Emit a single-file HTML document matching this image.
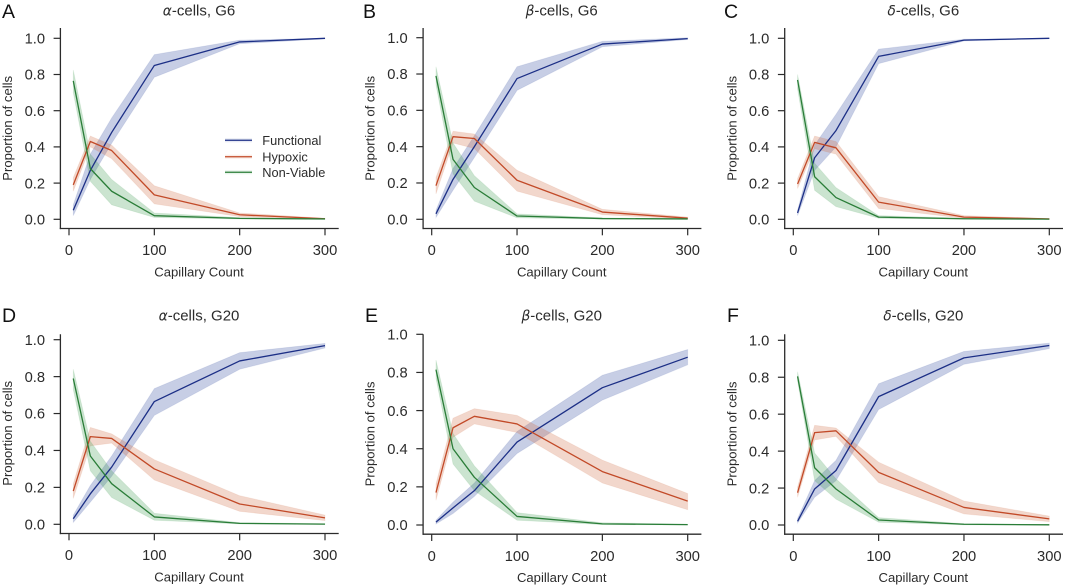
<!DOCTYPE html>
<html>
<head>
<meta charset="utf-8">
<title>Proportion of cells vs capillary count</title>
<style>
html,body{margin:0;padding:0;background:#fff;}
svg{display:block;font-family:"Liberation Sans",Arial,sans-serif;filter:blur(0.3px);}
</style>
</head>
<body>
<svg id="figure" width="1065" height="586" viewBox="0 0 1065 586" xmlns="http://www.w3.org/2000/svg"></svg>
<script>
// ---- Shared data ----
const capillaryCounts = [5, 25, 50, 100, 200, 300];
const xTickValues = [0, 100, 200, 300];
const yTickValues = [0, 0.2, 0.4, 0.6, 0.8, 1.0];
const seriesNames = ['Functional', 'Hypoxic', 'Non-Viable'];

// ---- Panel A ----
const aFunctional = [0.05, 0.27, 0.48, 0.85, 0.98, 1.0];
const aFunctionalLow = [0.02, 0.22, 0.42, 0.785, 0.97, 0.997];
const aFunctionalHigh = [0.08, 0.36, 0.56, 0.91, 0.99, 1.0];
const aHypoxic = [0.19, 0.43, 0.38, 0.135, 0.025, 0.003];
const aHypoxicLow = [0.155, 0.40, 0.335, 0.085, 0.015, 0.001];
const aHypoxicHigh = [0.23, 0.46, 0.41, 0.185, 0.035, 0.006];
const aNonViable = [0.765, 0.28, 0.155, 0.02, 0.005, 0.002];
const aNonViableLow = [0.70, 0.21, 0.08, 0.01, 0.002, 0.001];
const aNonViableHigh = [0.825, 0.36, 0.22, 0.035, 0.009, 0.004];

// ---- Panel B ----
const bFunctional = [0.03, 0.22, 0.40, 0.775, 0.965, 0.995];
const bFunctionalLow = [0.01, 0.16, 0.34, 0.71, 0.95, 0.99];
const bFunctionalHigh = [0.05, 0.28, 0.46, 0.84, 0.98, 1.0];
const bHypoxic = [0.185, 0.455, 0.445, 0.215, 0.04, 0.006];
const bHypoxicLow = [0.14, 0.42, 0.39, 0.155, 0.025, 0.002];
const bHypoxicHigh = [0.23, 0.485, 0.47, 0.27, 0.055, 0.012];
const bNonViable = [0.79, 0.33, 0.175, 0.018, 0.004, 0.002];
const bNonViableLow = [0.74, 0.25, 0.10, 0.008, 0.001, 0.001];
const bNonViableHigh = [0.84, 0.42, 0.24, 0.03, 0.008, 0.004];

// ---- Panel C ----
const cFunctional = [0.035, 0.34, 0.49, 0.90, 0.99, 1.0];
const cFunctionalLow = [0.02, 0.27, 0.40, 0.86, 0.985, 0.998];
const cFunctionalHigh = [0.05, 0.41, 0.58, 0.94, 0.995, 1.0];
const cHypoxic = [0.195, 0.425, 0.395, 0.095, 0.012, 0.002];
const cHypoxicLow = [0.17, 0.39, 0.36, 0.06, 0.006, 0.001];
const cHypoxicHigh = [0.225, 0.46, 0.43, 0.125, 0.02, 0.004];
const cNonViable = [0.77, 0.235, 0.12, 0.012, 0.003, 0.001];
const cNonViableLow = [0.72, 0.16, 0.07, 0.006, 0.001, 0.0];
const cNonViableHigh = [0.80, 0.31, 0.175, 0.02, 0.006, 0.002];

// ---- Panel D ----
const dFunctional = [0.03, 0.165, 0.31, 0.665, 0.885, 0.968];
const dFunctionalLow = [0.01, 0.12, 0.26, 0.59, 0.84, 0.955];
const dFunctionalHigh = [0.05, 0.21, 0.37, 0.735, 0.93, 0.98];
const dHypoxic = [0.18, 0.475, 0.465, 0.30, 0.11, 0.035];
const dHypoxicLow = [0.14, 0.425, 0.44, 0.24, 0.07, 0.02];
const dHypoxicHigh = [0.22, 0.525, 0.49, 0.35, 0.155, 0.05];
const dNonViable = [0.79, 0.37, 0.22, 0.04, 0.005, 0.001];
const dNonViableLow = [0.73, 0.29, 0.145, 0.022, 0.002, 0.0];
const dNonViableHigh = [0.84, 0.45, 0.29, 0.06, 0.009, 0.003];

// ---- Panel E ----
const eFunctional = [0.015, 0.09, 0.18, 0.435, 0.72, 0.88];
const eFunctionalLow = [0.005, 0.06, 0.15, 0.375, 0.655, 0.84];
const eFunctionalHigh = [0.025, 0.12, 0.22, 0.49, 0.785, 0.92];
const eHypoxic = [0.17, 0.51, 0.57, 0.53, 0.28, 0.125];
const eHypoxicLow = [0.13, 0.46, 0.53, 0.485, 0.22, 0.08];
const eHypoxicHigh = [0.215, 0.56, 0.61, 0.575, 0.34, 0.165];
const eNonViable = [0.815, 0.40, 0.25, 0.045, 0.006, 0.002];
const eNonViableLow = [0.77, 0.32, 0.18, 0.025, 0.002, 0.001];
const eNonViableHigh = [0.865, 0.48, 0.31, 0.065, 0.012, 0.004];

// ---- Panel F ----
const fFunctional = [0.02, 0.195, 0.295, 0.695, 0.905, 0.972];
const fFunctionalLow = [0.01, 0.15, 0.24, 0.625, 0.87, 0.955];
const fFunctionalHigh = [0.035, 0.24, 0.35, 0.765, 0.94, 0.985];
const fHypoxic = [0.175, 0.50, 0.51, 0.285, 0.095, 0.033];
const fHypoxicLow = [0.15, 0.46, 0.48, 0.23, 0.06, 0.018];
const fHypoxicHigh = [0.205, 0.54, 0.525, 0.34, 0.13, 0.048];
const fNonViable = [0.805, 0.31, 0.195, 0.027, 0.004, 0.001];
const fNonViableLow = [0.78, 0.24, 0.14, 0.015, 0.001, 0.0];
const fNonViableHigh = [0.83, 0.39, 0.25, 0.04, 0.007, 0.002];

const SVG_NS = 'http://www.w3.org/2000/svg';
const figure = document.getElementById('figure');
const INK = '#2b2b2b';
const COLORS = ['#1c2f86', '#c24a28', '#2a7d38'];
const BANDS = ['#2f4a9e', '#cf6a42', '#3f9a50'];

function make(tag, parent, attrs, text) {
  const el = document.createElementNS(SVG_NS, tag);
  for (const k in attrs) el.setAttribute(k, attrs[k]);
  if (text !== undefined) el.textContent = text;
  parent.appendChild(el);
  return el;
}

function slug(s) {
  return s.toLowerCase().replace(/[^a-z0-9]+/g, '-');
}

function drawPanel(cfg, series) {
  const xScale = v => cfg.x0 + (v / 300) * 256;
  const yScale = v => cfg.y0 + v * (cfg.y1 - cfg.y0);
  const spineX = cfg.x0 - 8.6;
  const spineY = cfg.y0 + 9.2;
  const rightX = cfg.x0 + 269.7;

  const g = make('g', figure, {});
  
  

  const letter = make('text', g, {x: cfg.letterX, y: cfg.letterY, 'font-size': 19.5, fill: '#111'}, cfg.letter);
  
  

  const title = make('text', g, {x: cfg.x0 + 130, y: cfg.titleY, 'font-size': 15, fill: INK, 'text-anchor': 'middle'});
  
  
  make('tspan', title, {'font-style': 'italic', 'font-family': '"DejaVu Sans","Liberation Sans",sans-serif', 'font-size': 13.8}, cfg.greek);
  make('tspan', title, {}, '-cells, ' + cfg.condition);

  // bands then lines, one group per series
  series.forEach((s, i) => {
    const upper = capillaryCounts.map((c, j) => xScale(c).toFixed(2) + ',' + yScale(s.high[j]).toFixed(2));
    const lower = capillaryCounts.map((c, j) => xScale(c).toFixed(2) + ',' + yScale(s.low[j]).toFixed(2)).reverse();
    const band = make('polygon', g, {points: upper.concat(lower).join(' '), fill: BANDS[i], 'fill-opacity': 0.27, stroke: BANDS[i], 'stroke-opacity': 0.12, 'stroke-width': 0.8});
    
    
  });
  series.forEach((s, i) => {
    const pts = capillaryCounts.map((c, j) => xScale(c).toFixed(2) + ',' + yScale(s.mean[j]).toFixed(2)).join(' ');
    const line = make('polyline', g, {points: pts, fill: 'none', stroke: COLORS[i], 'stroke-width': 1.3, 'stroke-linejoin': 'round'});
    
    
  });

  // spines
  const ySpine = make('line', g, {x1: spineX, x2: spineX, y1: cfg.top, y2: spineY + 0.6, stroke: INK, 'stroke-width': 1.3});
  
  
  const xSpine = make('line', g, {x1: spineX - 0.6, x2: rightX, y1: spineY, y2: spineY, stroke: INK, 'stroke-width': 1.3});
  
  

  yTickValues.forEach(v => {
    const y = yScale(v);
    const tick = make('line', g, {x1: spineX - 6.8, x2: spineX, y1: y, y2: y, stroke: INK, 'stroke-width': 1.2});
    
    
    const lab = make('text', g, {x: spineX - 15.4, y: y + 5.2, 'font-size': 14.7, fill: INK, 'text-anchor': 'end'}, v.toFixed(1));
    
    
  });
  xTickValues.forEach(v => {
    const x = xScale(v);
    const tick = make('line', g, {x1: x, x2: x, y1: spineY, y2: spineY + 6.8, stroke: INK, 'stroke-width': 1.2});
    
    
    const lab = make('text', g, {x: x, y: spineY + 26.6, 'font-size': 14.7, fill: INK, 'text-anchor': 'middle'}, String(v));
    
    
  });

  const xTitle = make('text', g, {x: cfg.x0 + 130, y: spineY + 48, 'font-size': 13.1, fill: INK, 'text-anchor': 'middle'}, 'Capillary Count');
  
  

  const yCentre = cfg.y0 - 91;
  const yTitleX = cfg.x0 - 57;
  const yTitle = make('text', g, {x: yTitleX, y: yCentre, 'font-size': 13.1, fill: INK, 'text-anchor': 'middle', transform: 'rotate(-90 ' + yTitleX + ' ' + yCentre + ')'}, 'Proportion of cells');
  
  
}

function triple(fm, fl, fh, hm, hl, hh, nm, nl, nh) {
  return [
    {mean: fm, low: fl, high: fh},
    {mean: hm, low: hl, high: hh},
    {mean: nm, low: nl, high: nh}
  ];
}

drawPanel({letter: 'A', greek: 'α', condition: 'G6', x0: 69, y0: 219.3, y1: 38.3, top: 28, letterX: 2, letterY: 18, titleY: 15.5},
  triple(aFunctional, aFunctionalLow, aFunctionalHigh, aHypoxic, aHypoxicLow, aHypoxicHigh, aNonViable, aNonViableLow, aNonViableHigh));
drawPanel({letter: 'B', greek: 'β', condition: 'G6', x0: 431.7, y0: 219.3, y1: 37.7, top: 28, letterX: 363, letterY: 18, titleY: 15.5},
  triple(bFunctional, bFunctionalLow, bFunctionalHigh, bHypoxic, bHypoxicLow, bHypoxicHigh, bNonViable, bNonViableLow, bNonViableHigh));
drawPanel({letter: 'C', greek: 'δ', condition: 'G6', x0: 793.3, y0: 219.3, y1: 38.3, top: 28, letterX: 724, letterY: 18, titleY: 15.5},
  triple(cFunctional, cFunctionalLow, cFunctionalHigh, cHypoxic, cHypoxicLow, cHypoxicHigh, cNonViable, cNonViableLow, cNonViableHigh));
drawPanel({letter: 'D', greek: 'α', condition: 'G20', x0: 69, y0: 524.3, y1: 339.7, top: 334.3, letterX: 2, letterY: 322, titleY: 320.5},
  triple(dFunctional, dFunctionalLow, dFunctionalHigh, dHypoxic, dHypoxicLow, dHypoxicHigh, dNonViable, dNonViableLow, dNonViableHigh));
drawPanel({letter: 'E', greek: 'β', condition: 'G20', x0: 431.7, y0: 525, y1: 334.3, top: 334.3, letterX: 365, letterY: 322, titleY: 320.5},
  triple(eFunctional, eFunctionalLow, eFunctionalHigh, eHypoxic, eHypoxicLow, eHypoxicHigh, eNonViable, eNonViableLow, eNonViableHigh));
drawPanel({letter: 'F', greek: 'δ', condition: 'G20', x0: 793.3, y0: 525, y1: 340.3, top: 334.3, letterX: 727, letterY: 322, titleY: 320.5},
  triple(fFunctional, fFunctionalLow, fFunctionalHigh, fHypoxic, fHypoxicLow, fHypoxicHigh, fNonViable, fNonViableLow, fNonViableHigh));

// legend in panel A
const legend = make('g', figure, {});


seriesNames.forEach((name, i) => {
  const y = [140.3, 156.7, 172.3][i];
  const swatchBand = make('rect', legend, {x: 225, y: y - 2, width: 27, height: 4, fill: BANDS[i], 'fill-opacity': 0.12});
  
  
  const swatch = make('line', legend, {x1: 225, x2: 252, y1: y, y2: y, stroke: COLORS[i], 'stroke-width': 1.25});
  
  
  const label = make('text', legend, {x: 262.3, y: y + 4.6, 'font-size': 12.8, fill: INK}, name);
  
  
});
</script>
</body>
</html>
